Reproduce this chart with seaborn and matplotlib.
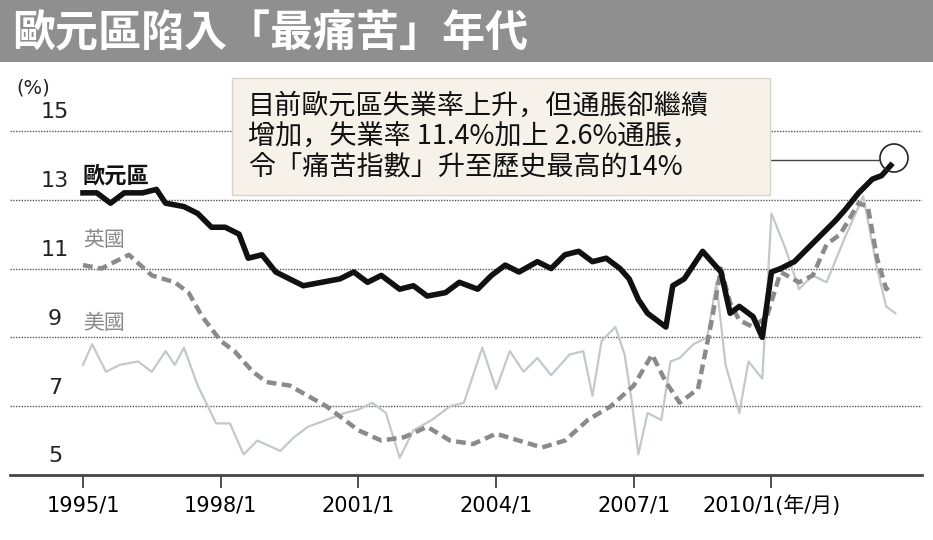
import matplotlib
matplotlib.use("Agg")
import matplotlib.pyplot as plt
import matplotlib.transforms as mtransforms
from matplotlib.patches import Rectangle, FancyBboxPatch, Ellipse
import seaborn as sns
import pandas as pd

CJK = ["Noto Sans CJK TC", "Noto Sans CJK JP", "Noto Sans CJK SC", "DejaVu Sans"]
LAT = ["DejaVu Sans", "Noto Sans CJK TC", "Noto Sans CJK JP", "Noto Sans CJK SC"]
plt.rcParams["font.family"] = CJK

euro_t = [1995.0,1995.3,1995.6,1995.9,1996.3,1996.6,1996.8,1997.2,1997.5,1997.8,1998.1,1998.4,1998.6,1998.9,1999.2,1999.5,1999.8,2000.2,2000.6,2000.9,2001.2,2001.5,2001.9,2002.2,2002.5,2002.9,2003.2,2003.6,2003.9,2004.2,2004.5,2004.9,2005.2,2005.5,2005.8,2006.1,2006.4,2006.7,2006.9,2007.1,2007.3,2007.7,2007.85,2008.1,2008.5,2008.7,2008.9,2009.1,2009.3,2009.6,2009.8,2010.0,2010.2,2010.5,2010.8,2011.1,2011.4,2011.6,2011.9,2012.2,2012.4,2012.6]
euro_v = [13.2,13.2,12.9,13.2,13.2,13.3,12.9,12.8,12.6,12.2,12.2,12.0,11.3,11.4,10.9,10.7,10.5,10.6,10.7,10.9,10.6,10.8,10.4,10.5,10.2,10.3,10.6,10.4,10.8,11.1,10.9,11.2,11.0,11.4,11.5,11.2,11.3,11.0,10.7,10.1,9.7,9.3,10.5,10.7,11.5,11.2,10.9,9.7,9.9,9.6,9.0,10.9,11.0,11.2,11.6,12.0,12.4,12.7,13.2,13.6,13.7,14.0]

uk_t = [1995.0,1995.4,1996.0,1996.5,1997.0,1997.3,1997.6,1998.0,1998.3,1998.7,1999.0,1999.5,1999.9,2000.3,2000.7,2001.0,2001.5,2002.0,2002.5,2003.0,2003.5,2004.0,2004.5,2005.0,2005.5,2006.0,2006.5,2007.0,2007.4,2007.7,2008.0,2008.4,2008.7,2008.9,2009.1,2009.3,2009.6,2009.9,2010.2,2010.6,2010.9,2011.2,2011.5,2011.9,2012.1,2012.3,2012.5,2012.6]
uk_v = [11.1,11.0,11.4,10.8,10.6,10.3,9.6,8.9,8.6,8.0,7.7,7.6,7.3,7.0,6.6,6.3,6.0,6.1,6.4,6.0,5.9,6.2,6.0,5.8,6.0,6.6,7.0,7.6,8.5,7.7,7.1,7.5,9.5,11.0,10.0,9.5,9.3,9.6,10.9,10.6,10.8,11.7,12.0,12.9,12.8,11.3,10.4,10.5]

us_t = [1995.0,1995.2,1995.5,1995.8,1996.2,1996.5,1996.8,1997.0,1997.2,1997.5,1997.9,1998.2,1998.5,1998.8,1999.3,1999.6,1999.9,2000.3,2000.7,2001.0,2001.3,2001.6,2001.9,2002.2,2002.6,2003.0,2003.3,2003.7,2004.0,2004.3,2004.6,2004.9,2005.2,2005.6,2005.9,2006.1,2006.3,2006.6,2006.8,2006.95,2007.1,2007.3,2007.6,2007.8,2008.0,2008.3,2008.6,2008.8,2009.0,2009.3,2009.5,2009.8,2010.0,2010.3,2010.6,2010.9,2011.2,2011.6,2011.9,2012.0,2012.3,2012.5,2012.7]
us_v = [8.2,8.8,8.0,8.2,8.3,8.0,8.6,8.2,8.7,7.6,6.5,6.5,5.6,6.0,5.7,6.1,6.4,6.6,6.8,6.9,7.1,6.8,5.5,6.3,6.6,7.0,7.1,8.7,7.5,8.6,8.0,8.4,7.9,8.5,8.6,7.3,8.9,9.3,8.5,7.2,5.6,6.8,6.6,8.3,8.4,8.8,9.0,10.6,8.2,6.8,8.3,7.8,12.6,11.6,10.4,10.8,10.6,11.9,12.8,13.1,11.0,9.9,9.7]

x_ticks = [1995, 1998, 2001, 2004, 2007, 2010]
x_labels = ["1995/1", "1998/1", "2001/1", "2004/1", "2007/1", "2010/1(年/月)"]
y_ticks = [5, 7, 9, 11, 13, 15]

df = pd.concat([
    pd.DataFrame({"t": us_t, "v": us_v, "s": "美國"}),
    pd.DataFrame({"t": uk_t, "v": uk_v, "s": "英國"}),
    pd.DataFrame({"t": euro_t, "v": euro_v, "s": "歐元區"}),
])

fig = plt.figure(figsize=(9.33, 5.4), dpi=100)
fig.patch.set_facecolor("white")
fig.add_artist(Rectangle((0, 1 - 62/540), 1, 62/540, transform=fig.transFigure,
                         facecolor="#8f8f8f", edgecolor="none"))
fig.text(12/933, 1 - 33/540, "歐元區陷入「最痛苦」年代", color="white", fontsize=31,
         fontweight="bold", va="center", ha="left", family=CJK)

ax = fig.add_axes([10/933, 65/540, 912/933, 405/540])
ax.set_xlim(1993.41, 2013.28)
ax.set_ylim(5, 16.77)
for y in [7, 9, 11, 13, 15]:
    ax.axhline(y, color="#555555", lw=1.0, ls=(0, (1, 1)), zorder=0)

sns.lineplot(data=df[df.s == "美國"], x="t", y="v", color="#c4c8cb", lw=1.6, ax=ax, zorder=2)
sns.lineplot(data=df[df.s == "英國"], x="t", y="v", color="#8a8a8a", lw=3.2, ax=ax, zorder=3,
             linestyle=(0, (2.2, 1.2)))
sns.lineplot(data=df[df.s == "歐元區"], x="t", y="v", color="#111111", lw=4, ax=ax, zorder=4)

for s in ["top", "right", "left"]:
    ax.spines[s].set_visible(False)
ax.spines["bottom"].set_color("#444444")
ax.spines["bottom"].set_linewidth(2)
ax.set_yticks([])
ax.set_xticks(x_ticks)
ax.set_xticklabels(x_labels, fontsize=15)
ax.tick_params(axis="x", length=9, width=1.2, color="#333333", pad=6)
ax.set_xlabel("")
ax.set_ylabel("")
for lab in ax.get_xticklabels():
    lab.set_fontfamily(LAT)

trans = mtransforms.blended_transform_factory(fig.transFigure, ax.transData)
for y in y_ticks:
    ax.text(55/933, y + 0.25, str(y), transform=trans, fontsize=16, ha="center",
            va="bottom", color="#222222", family=LAT)
ax.text(33/933, 16.25, "(%)", transform=trans, fontsize=14, ha="center", va="center",
        color="#222222", family=LAT)

ax.text(1995.0, 13.35, "歐元區", fontsize=16, fontweight="bold", color="#111111", va="bottom", family=CJK)
ax.text(1995.0, 11.5, "英國", fontsize=15, color="#8a8a8a", va="bottom", family=CJK)
ax.text(1995.0, 9.1, "美國", fontsize=15, color="#8a8a8a", va="bottom", family=CJK)

box = FancyBboxPatch((232/933, (540-195)/540), 538/933, 117/540, transform=fig.transFigure,
                     boxstyle="square,pad=0", facecolor="#f6f2ea", edgecolor="#d8d4cc", lw=1,
                     zorder=5)
fig.add_artist(box)
fig.text(248/933, 1 - 137/540,
         "目前歐元區失業率上升，但通脹卻繼續\n增加，失業率 11.4%加上 2.6%通脹，\n令「痛苦指數」升至歷史最高的14%",
         fontsize=19.5, va="center", ha="left", color="#111111", linespacing=1.2, zorder=6,
         family=CJK)
fig.add_artist(plt.Line2D([770/933, 880/933], [1 - 160/540, 1 - 160/540],
                          transform=fig.transFigure, color="#444444", lw=1))
fig.add_artist(Ellipse((894/933, 1 - 158/540), 28/933, 28/540, transform=fig.transFigure,
                       facecolor="none", edgecolor="#222222", lw=1.2))

fig.savefig("out.png", dpi=100)
